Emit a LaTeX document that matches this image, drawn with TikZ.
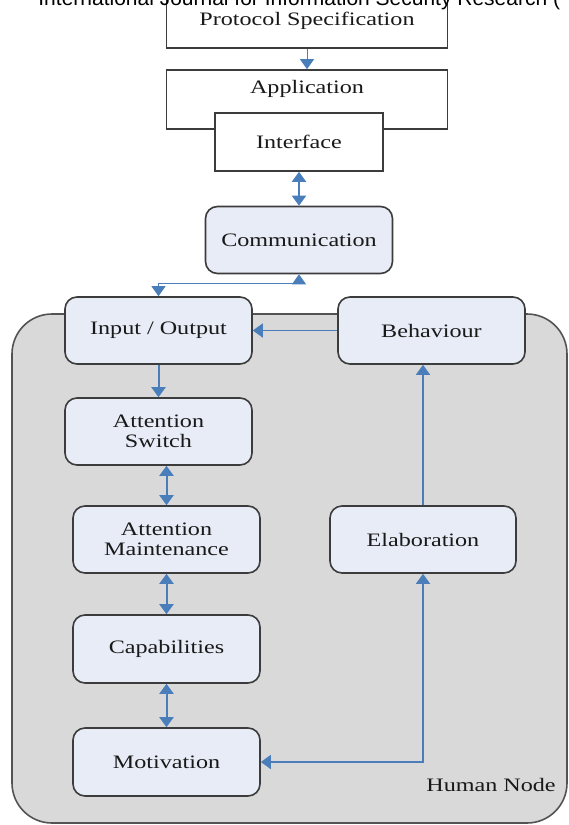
\documentclass[tikz,border=0pt]{standalone}
\usepackage{fontspec}
\setmainfont{Liberation Serif}[FakeStretch=1.27]
\newfontfamily\headfont{Liberation Sans}
\usetikzlibrary{arrows.meta}

\definecolor{arrowblue}{RGB}{74,126,187}
\definecolor{boxfill}{RGB}{231,236,246}
\definecolor{nodegray}{RGB}{217,217,217}
\definecolor{edgegray}{RGB}{60,60,60}

\def\px{0.5pt}
\def\boxw{187}
\def\boxh{67}

\tikzset{
  plainbox/.style={draw=edgegray, line width=0.8pt, fill=white, inner sep=0pt, text=black!90},
  roundbox/.style={plainbox, fill=boxfill, rounded corners=6pt, align=center,
    minimum width=\boxw*\px, minimum height=\boxh*\px},
  wire/.style={draw=arrowblue, line width=1pt},
  thinwire/.style={draw=arrowblue, line width=0.5pt},
  midwire/.style={draw=arrowblue, line width=0.75pt}
}

\begin{document}
\begin{tikzpicture}[x=\px, y=-\px, font=\fontsize{9.5}{10}\selectfont,
  >={Triangle[width=7pt,length=5pt]}]
\useasboundingbox (0,0) rectangle (568,825);

% Human node region
\draw[fill=nodegray, draw=gray!65!black, line width=0.8pt, rounded corners=20pt] (12,314) rectangle (567,823);
\node[text=black!90] (human) at (491,785) {Human Node};

% Protocol stack
\node[plainbox, minimum width=281*\px, minimum height=54*\px] (protocol) at (307,21) {Protocol Specification};
\node[plainbox, minimum width=281*\px, minimum height=59*\px] (application) at (307,99.5) {};
\node[text=black!90] (apptext) at (307,89) {Application};
\node[plainbox, minimum width=168*\px, minimum height=58*\px] (interface) at (299,142) {Interface};

% page header (cut off)
\node[anchor=base west, inner sep=0pt, font=\headfont\fontsize{10.5}{12}\selectfont] (header) at (38,5)
  {International Journal for Information Security Research (};

% Boxes
\node[roundbox] (comm) at (299,240) {Communication};
\node[roundbox] (io) at (158.5,330.5) {Input / Output};
\node[roundbox] (beh) at (431.5,330.5) {Behaviour};
\node[roundbox] (asw) at (158.5,431.5) {Attention\\Switch};
\node[roundbox] (amt) at (166.5,539.5) {Attention\\Maintenance};
\node[roundbox, minimum width=186*\px] (elab) at (423,539.5) {Elaboration};
\node[roundbox, minimum height=68*\px] (cap) at (166.5,649) {Capabilities};
\node[roundbox, minimum height=68*\px] (mot) at (166.5,762) {Motivation};

% Arrows
\draw[thinwire, ->] (protocol) -- (application);
\draw[wire, <->] (interface) -- (comm);
\draw[thinwire, <->] (comm.south) -- ++(0,9) -| (io.north);
\draw[midwire, ->] (beh) -- (io);
\draw[wire, ->] (io) -- (asw);
\draw[wire, <->] (asw.south -| amt.north) -- (amt.north);
\draw[wire, <->] (amt) -- (cap);
\draw[wire, <->] (cap) -- (mot);
\draw[midwire, ->] (elab.north) -- (elab.north |- beh.south);
\draw[midwire, <->] (elab.south) |- (mot.east);

\end{tikzpicture}
\end{document}
